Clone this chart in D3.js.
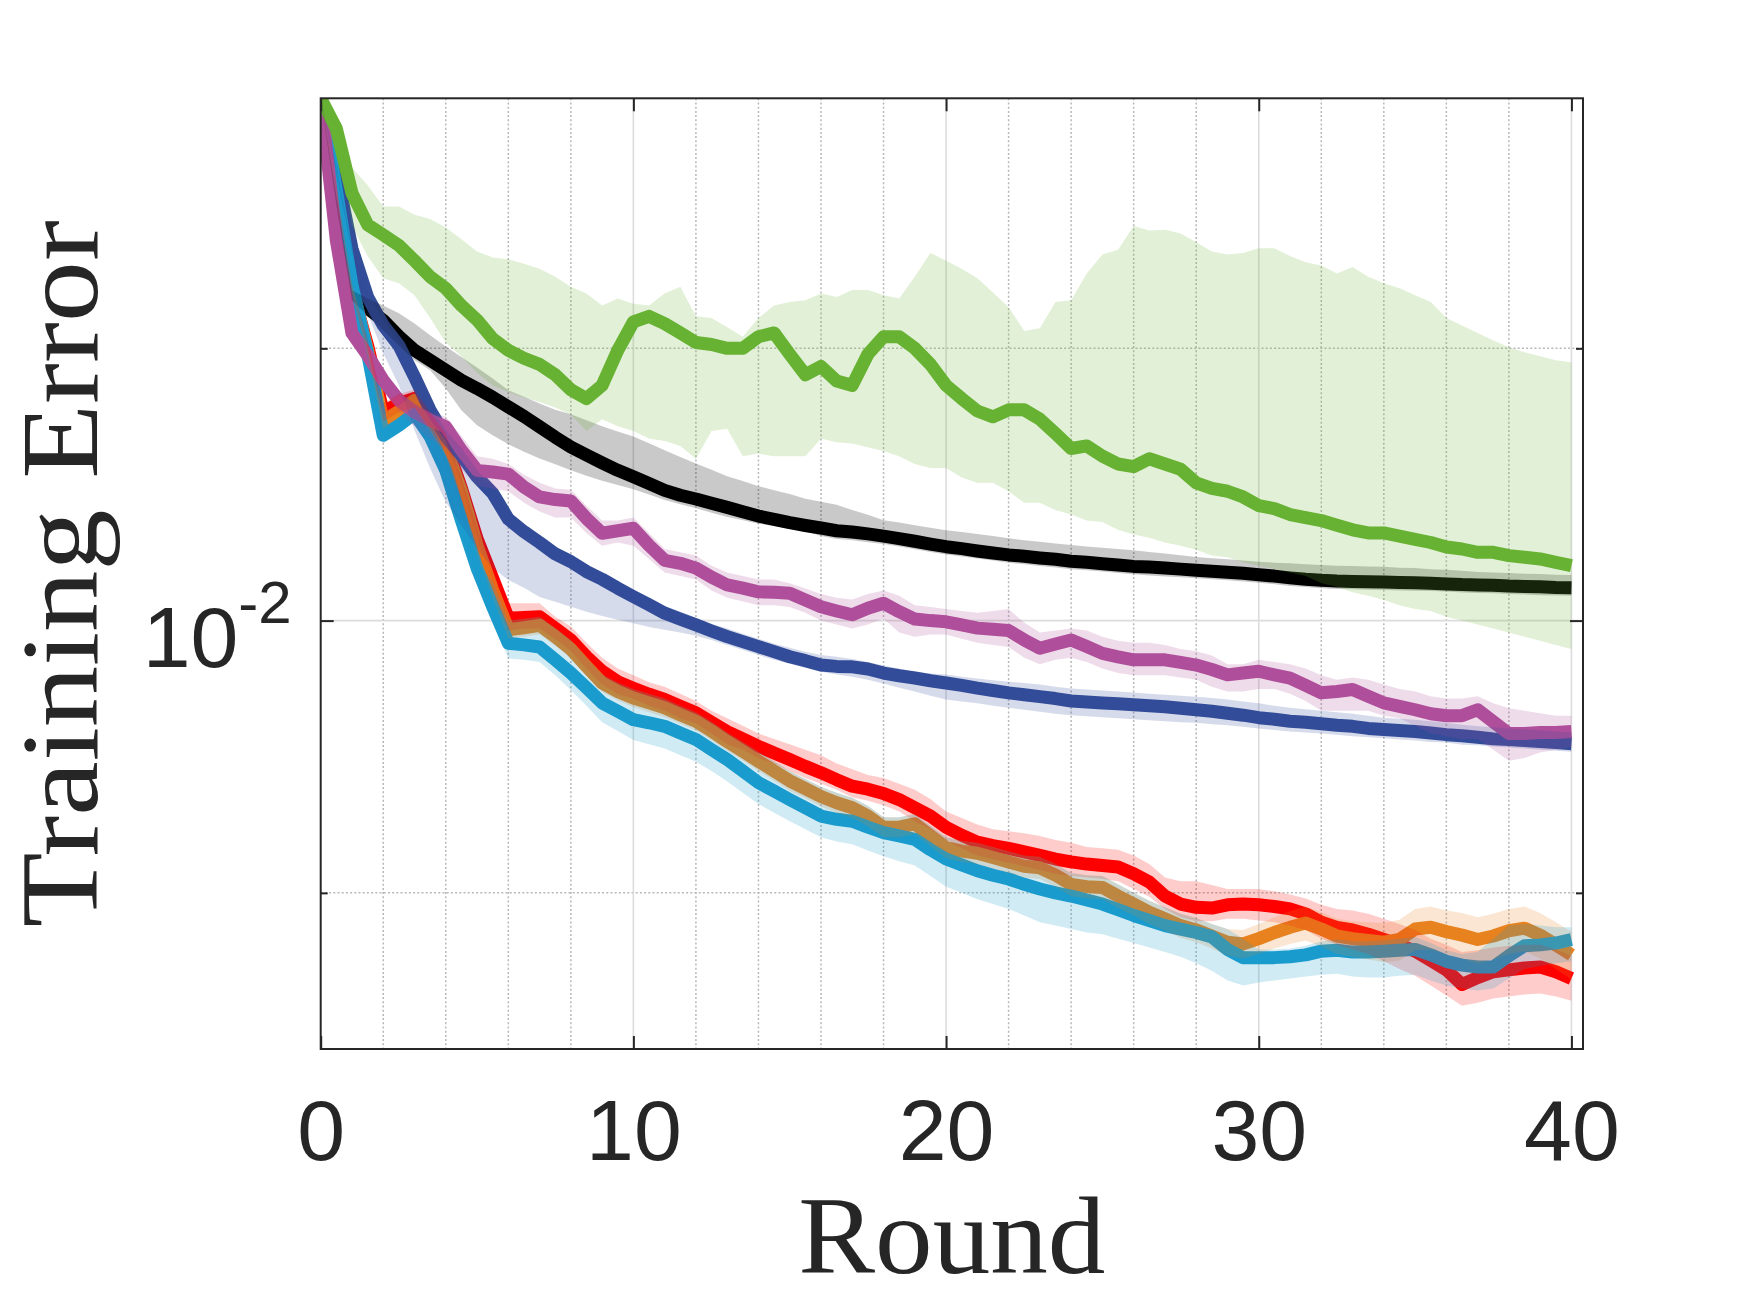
<html>
<head>
<script src="https://d3js.org/d3.v7.min.js"></script>
<style>
body { margin: 0; background: #fff; }
</style>
</head>
<body>
<script>
// rounds sampled every half round, values are in units of 1e-3
const rounds = d3.range(0, 40.5, 0.5);
const unit = 1e-3;

const greenMean = [37.8, 35.0, 29.7, 27.4, 26.7, 26.0, 25.0, 24.0, 23.3, 22.3,
  21.5, 20.5, 19.9, 19.5, 19.2, 18.7, 18.0, 17.6, 18.2, 19.9,
  21.4, 21.7, 21.3, 20.8, 20.3, 20.2, 20.0, 20.0, 20.6, 20.8,
  19.7, 18.7, 19.1, 18.4, 18.2, 19.7, 20.6, 20.6, 20.0, 19.2,
  18.2, 17.6, 17.05, 16.8, 17.1, 17.1, 16.7, 16.1, 15.5, 15.6,
  15.2, 14.9, 14.8, 15.1, 14.9, 14.7, 14.2, 14.0, 13.9, 13.7,
  13.4, 13.3, 13.1, 13.0, 12.9, 12.75, 12.6, 12.5, 12.5, 12.4,
  12.3, 12.2, 12.06, 12.0, 11.9, 11.9, 11.8, 11.75, 11.7, 11.6,
  11.5];
const greenHigh = [37.8, 35.1, 31.7, 30.3, 28.7, 28.7, 28.1, 27.8, 27.2, 26.4,
  25.6, 25.2, 25.1, 24.8, 24.5, 24.0, 23.4, 23.0, 22.3, 22.7,
  22.4, 22.3, 23.0, 23.4, 21.7, 21.6, 21.1, 20.6, 21.6, 22.3,
  22.5, 22.6, 23.0, 22.8, 23.2, 23.2, 22.9, 22.7, 24.0, 25.5,
  25.0, 24.5, 23.9, 23.05, 22.2, 20.9, 21.05, 22.5, 22.6, 24.2,
  25.4, 25.7, 27.3, 27.0, 27.05, 26.8, 26.2, 25.6, 25.4, 25.5,
  25.8, 25.8, 25.3, 24.9, 24.7, 24.2, 24.6, 24.0, 23.6, 23.3,
  22.9, 22.5, 21.6, 21.2, 20.8, 20.4, 20.05, 19.8, 19.6, 19.4,
  19.3];
const greenLow = [37.8, 35.0, 27.3, 25.3, 23.9, 23.6, 22.9, 21.6, 20.3, 19.6,
  18.8, 18.2, 17.9, 17.65, 17.45, 17.2, 16.9, 16.2, 16.7, 16.4,
  16.2, 15.9, 15.8, 15.6, 15.1, 16.2, 16.3, 15.2, 15.3, 15.2,
  15.2, 15.2, 15.9, 15.75, 15.7, 15.55, 15.4, 15.2, 14.9, 14.75,
  14.75, 14.4, 14.2, 14.2, 13.9, 13.5, 13.5, 13.25, 13.1, 12.9,
  12.85, 12.6, 12.45, 12.35, 12.2, 12.1, 11.98, 11.8, 11.75, 11.6,
  11.5, 11.4, 11.3, 11.2, 11.0, 10.9, 10.75, 10.65, 10.54, 10.4,
  10.3, 10.25, 10.1, 10.0, 9.9, 9.8, 9.7, 9.6, 9.5, 9.4,
  9.3];

const blackMean = [37.8, 29.2, 23.03, 22.15, 21.48, 20.62, 19.90, 19.40, 18.92, 18.44,
  18.06, 17.66, 17.23, 16.82, 16.38, 15.95, 15.56, 15.24, 14.94, 14.66,
  14.42, 14.18, 13.93, 13.76, 13.63, 13.48, 13.34, 13.19, 13.05, 12.94,
  12.83, 12.74, 12.66, 12.57, 12.53, 12.47, 12.40, 12.32, 12.24, 12.15,
  12.07, 12.01, 11.94, 11.88, 11.82, 11.78, 11.73, 11.69, 11.63, 11.60,
  11.56, 11.52, 11.48, 11.46, 11.43, 11.40, 11.37, 11.34, 11.31, 11.28,
  11.24, 11.20, 11.15, 11.11, 11.08, 11.06, 11.05, 11.04, 11.03, 11.02,
  11.01, 11.00, 10.98, 10.96, 10.95, 10.94, 10.92, 10.91, 10.90, 10.88,
  10.87];
const blackHigh = [37.8, 29.5, 23.19, 22.7, 22.3, 21.87, 21.3, 20.68, 20.1, 19.56,
  19.05, 18.52, 17.98, 17.68, 17.38, 17.11, 16.91, 16.65, 16.40, 16.18,
  15.98, 15.71, 15.43, 15.17, 14.92, 14.68, 14.44, 14.27, 14.08, 13.94,
  13.80, 13.64, 13.53, 13.43, 13.25, 13.09, 12.91, 12.84, 12.75, 12.67,
  12.59, 12.53, 12.47, 12.40, 12.33, 12.27, 12.22, 12.17, 12.12, 12.08,
  12.04, 12.0, 11.96, 11.91, 11.86, 11.81, 11.76, 11.72, 11.69, 11.65,
  11.62, 11.59, 11.57, 11.54, 11.52, 11.50, 11.49, 11.48, 11.47, 11.44,
  11.43, 11.40, 11.38, 11.35, 11.32, 11.30, 11.29, 11.27, 11.26, 11.24,
  11.23];
const blackLow = [37.8, 28.8, 22.6, 21.75, 20.94, 20.15, 19.40, 18.92, 18.06, 17.08,
  16.44, 16.03, 15.67, 15.37, 15.11, 14.89, 14.66, 14.46, 14.28, 14.12,
  13.97, 13.79, 13.59, 13.45, 13.31, 13.16, 13.02, 12.91, 12.80, 12.72,
  12.63, 12.55, 12.40, 12.31, 12.27, 12.21, 12.15, 12.08, 11.99, 11.91,
  11.83, 11.77, 11.71, 11.65, 11.59, 11.54, 11.49, 11.45, 11.40, 11.37,
  11.33, 11.29, 11.25, 11.22, 11.19, 11.17, 11.14, 11.11, 11.08, 11.05,
  11.01, 10.97, 10.92, 10.89, 10.86, 10.84, 10.83, 10.82, 10.81, 10.80,
  10.79, 10.78, 10.77, 10.74, 10.73, 10.72, 10.70, 10.69, 10.67, 10.66,
  10.65];

const purpleMean = [37.8, 26.33, 20.79, 19.65, 18.44, 17.52, 17.01, 16.65, 16.38, 15.43,
  14.66, 14.60, 14.52, 14.05, 13.70, 13.61, 13.56, 12.97, 12.49, 12.57,
  12.65, 12.11, 11.66, 11.57, 11.43, 11.17, 10.95, 10.86, 10.76, 10.75,
  10.72, 10.54, 10.36, 10.25, 10.15, 10.32, 10.45, 10.23, 10.04, 10.00,
  9.97, 9.89, 9.81, 9.78, 9.75, 9.52, 9.32, 9.42, 9.52, 9.36,
  9.20, 9.12, 9.05, 9.05, 9.05, 8.99, 8.93, 8.83, 8.71, 8.75,
  8.79, 8.71, 8.64, 8.48, 8.32, 8.35, 8.39, 8.25, 8.11, 8.04,
  7.97, 7.89, 7.85, 7.85, 7.97, 7.73, 7.50, 7.50, 7.52, 7.52,
  7.54];
const purpleHigh = [37.8, 26.8, 21.2, 20.0, 18.8, 17.9, 17.4, 17.0, 16.8, 16.0,
  15.2, 15.1, 14.9, 14.5, 14.2, 14.0, 13.95, 13.4, 12.9, 12.9,
  13.0, 12.5, 12.0, 11.9, 11.8, 11.5, 11.3, 11.2, 11.1, 11.1,
  11.0, 10.85, 10.7, 10.6, 10.55, 10.7, 10.8, 10.65, 10.4, 10.35,
  10.3, 10.25, 10.2, 10.25, 10.3, 9.95, 9.7, 9.75, 9.8, 9.75,
  9.6, 9.5, 9.45, 9.45, 9.4, 9.3, 9.25, 9.15, 8.95, 8.95,
  9.05, 9.0, 8.95, 8.85, 8.7, 8.6, 8.65, 8.6, 8.5, 8.4,
  8.35, 8.25, 8.2, 8.2, 8.25, 8.1, 8.0, 7.95, 7.9, 7.85,
  7.85];
const purpleLow = [37.8, 25.9, 20.4, 19.3, 18.1, 17.0, 16.4, 15.9, 15.5, 14.7,
  14.1, 14.0, 13.9, 13.5, 13.2, 13.0, 13.0, 12.5, 12.1, 12.2,
  12.1, 11.7, 11.3, 11.2, 11.1, 10.8, 10.6, 10.5, 10.4, 10.4,
  10.35, 10.2, 10.0, 9.9, 9.8, 9.9, 10.05, 9.7, 9.6, 9.65,
  9.65, 9.55, 9.45, 9.4, 9.35, 9.1, 8.95, 9.05, 9.1, 9.0,
  8.85, 8.75, 8.7, 8.7, 8.7, 8.65, 8.6, 8.45, 8.35, 8.35,
  8.4, 8.4, 8.3, 8.15, 7.95, 7.95, 7.95, 7.95, 7.85, 7.8,
  7.65, 7.5, 7.45, 7.4, 7.4, 7.2, 7.0, 7.05, 7.15, 7.2,
  7.25];

const blueMean = [37.8, 31.47, 25.78, 22.79, 21.21, 20.15, 18.60, 17.08, 15.98, 15.24,
  14.42, 13.83, 12.95, 12.54, 12.20, 11.85, 11.62, 11.33, 11.11, 10.86,
  10.63, 10.41, 10.19, 10.04, 9.89, 9.74, 9.60, 9.48, 9.36, 9.24,
  9.12, 9.03, 8.93, 8.90, 8.89, 8.84, 8.75, 8.69, 8.64, 8.58,
  8.53, 8.48, 8.42, 8.37, 8.32, 8.28, 8.24, 8.20, 8.15, 8.13,
  8.11, 8.09, 8.07, 8.05, 8.03, 8.00, 7.97, 7.94, 7.90, 7.86,
  7.81, 7.78, 7.74, 7.72, 7.69, 7.66, 7.64, 7.60, 7.58, 7.56,
  7.54, 7.51, 7.48, 7.46, 7.43, 7.40, 7.39, 7.37, 7.35, 7.33,
  7.31];
const blueHigh = [37.8, 31.87, 26.06, 23.07, 21.48, 20.42, 18.92, 17.38, 16.24, 15.51,
  14.66, 14.04, 13.18, 12.75, 12.40, 12.06, 11.81, 11.54, 11.31, 11.06,
  10.81, 10.59, 10.38, 10.23, 10.07, 9.92, 9.80, 9.67, 9.55, 9.43,
  9.33, 9.24, 9.16, 9.12, 9.07, 9.00, 8.92, 8.85, 8.78, 8.74,
  8.72, 8.67, 8.63, 8.59, 8.56, 8.53, 8.50, 8.45, 8.41, 8.39,
  8.37, 8.35, 8.33, 8.30, 8.28, 8.26, 8.24, 8.21, 8.18, 8.14,
  8.10, 8.05, 8.01, 7.98, 7.95, 7.92, 7.89, 7.85, 7.81, 7.79,
  7.77, 7.74, 7.71, 7.67, 7.64, 7.62, 7.60, 7.58, 7.56, 7.54,
  7.52];
const blueLow = [37.8, 31.08, 25.54, 21.87, 19.75, 18.21, 16.24, 14.74, 13.52, 12.75,
  12.02, 11.43, 11.09, 10.87, 10.62, 10.49, 10.36, 10.23, 10.12, 10.02,
  9.93, 9.84, 9.77, 9.70, 9.62, 9.52, 9.40, 9.28, 9.16, 9.05,
  8.96, 8.87, 8.78, 8.72, 8.67, 8.60, 8.52, 8.43, 8.35, 8.26,
  8.18, 8.14, 8.10, 8.05, 8.01, 7.97, 7.93, 7.89, 7.86, 7.84,
  7.82, 7.80, 7.78, 7.76, 7.74, 7.72, 7.71, 7.68, 7.66, 7.63,
  7.60, 7.57, 7.54, 7.52, 7.50, 7.48, 7.45, 7.43, 7.41, 7.39,
  7.37, 7.34, 7.33, 7.29, 7.28, 7.26, 7.24, 7.22, 7.20, 7.18,
  7.16];

const redMean = [37.8, 29.9, 23.19, 20.15, 17.0, 17.38, 17.61, 16.65, 15.70, 14.01,
  12.32, 11.14, 10.06, 10.08, 10.10, 9.81, 9.52, 9.12, 8.79, 8.56,
  8.42, 8.29, 8.18, 8.04, 7.91, 7.72, 7.54, 7.40, 7.26, 7.14,
  7.02, 6.90, 6.79, 6.67, 6.56, 6.51, 6.44, 6.34, 6.21, 6.08,
  5.91, 5.79, 5.69, 5.64, 5.60, 5.55, 5.50, 5.45, 5.41, 5.38,
  5.36, 5.34, 5.25, 5.14, 4.96, 4.86, 4.82, 4.81, 4.85, 4.86,
  4.85, 4.83, 4.80, 4.74, 4.64, 4.58, 4.55, 4.50, 4.44, 4.38,
  4.31, 4.21, 4.11, 3.96, 4.03, 4.09, 4.11, 4.13, 4.14, 4.09,
  4.02];
const redHigh = [37.8, 30.2, 23.5, 20.5, 17.4, 17.8, 18.0, 17.0, 16.1, 14.4,
  12.7, 11.5, 10.45, 10.45, 10.45, 10.1, 9.85, 9.45, 9.1, 8.85,
  8.7, 8.55, 8.45, 8.3, 8.15, 7.95, 7.8, 7.65, 7.5, 7.4,
  7.3, 7.2, 7.1, 6.95, 6.85, 6.75, 6.7, 6.6, 6.5, 6.35,
  6.15, 6.05, 5.95, 5.88, 5.85, 5.82, 5.78, 5.72, 5.68, 5.62,
  5.6, 5.58, 5.5, 5.38, 5.2, 5.15, 5.15, 5.1, 5.05, 5.05,
  5.05, 5.02, 4.98, 4.93, 4.85, 4.8, 4.78, 4.74, 4.68, 4.62,
  4.55, 4.45, 4.38, 4.3, 4.32, 4.35, 4.37, 4.38, 4.38, 4.33,
  4.26];
const redLow = [37.8, 29.6, 22.9, 19.8, 16.6, 17.0, 17.2, 16.3, 15.3, 13.6,
  12.0, 10.8, 9.75, 9.8, 9.8, 9.55, 9.25, 8.85, 8.5, 8.3,
  8.2, 8.05, 7.95, 7.8, 7.7, 7.5, 7.3, 7.2, 7.05, 6.95,
  6.82, 6.7, 6.6, 6.5, 6.38, 6.32, 6.25, 6.15, 6.0, 5.88,
  5.72, 5.6, 5.5, 5.45, 5.4, 5.35, 5.3, 5.25, 5.22, 5.2,
  5.18, 5.15, 5.05, 4.95, 4.8, 4.7, 4.65, 4.65, 4.68, 4.68,
  4.66, 4.64, 4.6, 4.55, 4.45, 4.38, 4.33, 4.28, 4.2, 4.12,
  4.05, 3.95, 3.85, 3.75, 3.78, 3.82, 3.84, 3.86, 3.87, 3.84,
  3.8];

const orangeMean = [37.8, 29.9, 23.37, 19.90, 16.61, 17.04, 17.52, 16.44, 15.51, 13.90,
  12.11, 10.81, 9.77, 9.82, 9.88, 9.60, 9.30, 8.90, 8.53, 8.35,
  8.21, 8.11, 8.01, 7.87, 7.74, 7.55, 7.35, 7.17, 6.99, 6.82,
  6.65, 6.52, 6.39, 6.29, 6.21, 6.08, 5.91, 5.91, 5.96, 5.78,
  5.61, 5.56, 5.53, 5.47, 5.41, 5.35, 5.33, 5.23, 5.11, 5.08,
  5.07, 4.96, 4.86, 4.76, 4.68, 4.60, 4.55, 4.48, 4.41, 4.39,
  4.45, 4.52, 4.58, 4.63, 4.56, 4.48, 4.45, 4.43, 4.41, 4.44,
  4.56, 4.58, 4.53, 4.49, 4.44, 4.48, 4.54, 4.57, 4.49, 4.38,
  4.27];
const orangeHigh = [37.8, 30.1, 23.6, 20.2, 16.9, 17.3, 17.8, 16.7, 15.8, 14.2,
  12.35, 11.05, 10.0, 10.05, 10.1, 9.82, 9.52, 9.1, 8.72, 8.54,
  8.4, 8.3, 8.2, 8.05, 7.92, 7.73, 7.52, 7.34, 7.16, 6.99,
  6.82, 6.68, 6.55, 6.45, 6.37, 6.24, 6.06, 6.06, 6.11, 5.93,
  5.76, 5.71, 5.68, 5.62, 5.56, 5.5, 5.48, 5.38, 5.26, 5.23,
  5.22, 5.11, 5.0, 4.9, 4.82, 4.74, 4.69, 4.62, 4.56, 4.55,
  4.62, 4.7, 4.77, 4.83, 4.76, 4.68, 4.65, 4.64, 4.63, 4.67,
  4.8, 4.83, 4.78, 4.75, 4.7, 4.74, 4.8, 4.83, 4.75, 4.64,
  4.53];
const orangeLow = [37.8, 29.7, 23.1, 19.6, 16.3, 16.8, 17.2, 16.2, 15.2, 13.6,
  11.85, 10.6, 9.55, 9.6, 9.65, 9.38, 9.08, 8.7, 8.34, 8.16,
  8.02, 7.92, 7.82, 7.69, 7.56, 7.37, 7.18, 7.0, 6.82, 6.65,
  6.48, 6.36, 6.23, 6.13, 6.05, 5.92, 5.76, 5.76, 5.81, 5.63,
  5.46, 5.41, 5.38, 5.32, 5.26, 5.2, 5.18, 5.08, 4.96, 4.93,
  4.92, 4.81, 4.72, 4.62, 4.54, 4.46, 4.41, 4.34, 4.26, 4.23,
  4.28, 4.34, 4.39, 4.43, 4.36, 4.28, 4.25, 4.22, 4.19, 4.21,
  4.32, 4.33, 4.28, 4.23, 4.18, 4.22, 4.28, 4.31, 4.23, 4.12,
  4.01];

const cyanMean = [37.8, 29.9, 23.5, 19.74, 16.03, 16.44, 16.94, 15.98, 14.66, 12.91,
  11.43, 10.36, 9.44, 9.40, 9.35, 9.05, 8.75, 8.43, 8.11, 7.94,
  7.77, 7.71, 7.64, 7.51, 7.39, 7.20, 7.02, 6.82, 6.62, 6.48,
  6.34, 6.21, 6.08, 6.03, 6.00, 5.91, 5.83, 5.78, 5.73, 5.58,
  5.45, 5.37, 5.29, 5.23, 5.18, 5.11, 5.05, 5.00, 4.96, 4.91,
  4.86, 4.79, 4.72, 4.66, 4.60, 4.56, 4.52, 4.47, 4.33, 4.24,
  4.24, 4.24, 4.25, 4.27, 4.31, 4.32, 4.30, 4.30, 4.31, 4.32,
  4.33, 4.27, 4.20, 4.16, 4.14, 4.14, 4.26, 4.37, 4.38, 4.40,
  4.44];
const cyanHigh = [37.8, 30.2, 23.8, 20.0, 16.3, 16.7, 17.2, 16.2, 14.9, 13.15,
  11.6, 11.05, 10.0, 10.05, 10.1, 9.82, 9.52, 9.1, 8.72, 8.54,
  8.4, 8.3, 8.2, 8.05, 7.92, 7.73, 7.52, 7.34, 7.16, 6.99,
  6.82, 6.68, 6.55, 6.45, 6.37, 6.24, 6.06, 6.06, 6.11, 5.93,
  5.76, 5.71, 5.68, 5.62, 5.56, 5.5, 5.48, 5.38, 5.26, 5.23,
  5.22, 5.11, 5.0, 4.9, 4.82, 4.74, 4.69, 4.62, 4.56, 4.45,
  4.33, 4.33, 4.34, 4.37, 4.42, 4.44, 4.42, 4.42, 4.43, 4.45,
  4.47, 4.4, 4.32, 4.28, 4.3, 4.45, 4.6, 4.62, 4.6, 4.58,
  4.58];
const cyanLow = [37.8, 29.6, 23.2, 19.4, 15.7, 16.1, 16.6, 15.6, 14.3, 12.6,
  11.15, 10.05, 9.08, 9.05, 9.0, 8.7, 8.38, 8.05, 7.72, 7.55,
  7.38, 7.3, 7.22, 7.1, 6.98, 6.82, 6.64, 6.45, 6.27, 6.13,
  6.0, 5.88, 5.76, 5.7, 5.66, 5.57, 5.49, 5.42, 5.36, 5.22,
  5.08, 5.0, 4.92, 4.86, 4.8, 4.72, 4.64, 4.6, 4.56, 4.52,
  4.5, 4.45, 4.4, 4.35, 4.3, 4.25, 4.18, 4.1, 4.0, 3.95,
  3.98, 4.0, 4.02, 4.04, 4.06, 4.07, 4.04, 4.03, 4.03, 4.05,
  4.06, 4.0, 3.95, 3.92, 3.9, 3.92, 4.02, 4.12, 4.15, 4.18,
  4.2];

const xTicks = [0, 10, 20, 30, 40];
const yMajor = [0.01];
const yMinor = [0.005, 0.02];

// draw order of the lines; bands are laid over them afterwards
const series = [
  {key: "black",  color: "#000000", mean: blackMean,  low: blackLow,  high: blackHigh,  alpha: 0.21},
  {key: "red",    color: "#ff0000", mean: redMean,    low: redLow,    high: redHigh,    alpha: 0.2},
  {key: "orange", color: "#e8821e", mean: orangeMean, low: orangeLow, high: orangeHigh, alpha: 0.2},
  {key: "blue",   color: "#334d99", mean: blueMean,   low: blueLow,   high: blueHigh,   alpha: 0.2},
  {key: "cyan",   color: "#1b9bce", mean: cyanMean,   low: cyanLow,   high: cyanHigh,   alpha: 0.2},
  {key: "purple", color: "#b04e9a", mean: purpleMean, low: purpleLow, high: purpleHigh, alpha: 0.2},
  {key: "green",  color: "#67b233", mean: greenMean,  low: greenLow,  high: greenHigh,  alpha: 0.2}
];
const bandOrder = ["black", "green", "purple", "blue", "red", "orange", "cyan"];

function draw() {
  const width = 1750, height = 1313;
  const pL = 320.7, pR = 1583, pT = 98.3, pB = 1049;
  const axisColor = "#262626";

  const svg = d3.select("body").append("svg")
    .attr("width", width).attr("height", height)
    .attr("viewBox", [0, 0, width, height]);

  const x = d3.scaleLinear().domain([0, 40.37]).range([pL, pR]);
  const y = d3.scaleLog().domain([0.00336, 0.0378]).range([pB, pT]);

  svg.append("clipPath").attr("id", "plot")
    .append("rect").attr("x", pL).attr("y", pT)
    .attr("width", pR - pL).attr("height", pB - pT);

  // grid
  let grid = svg.append("g");
  grid.selectAll(".xminor").data(d3.range(2, 40, 2).filter(v => v % 10 != 0)).enter()
    .append("line")
    .attr("x1", d => x(d)).attr("x2", d => x(d))
    .attr("y1", pT).attr("y2", pB)
    .attr("stroke", "#b8b8b8").attr("stroke-width", 1.5)
    .attr("stroke-dasharray", "2,2.2");
  grid.selectAll(".yminor").data(yMinor).enter()
    .append("line")
    .attr("x1", pL).attr("x2", pR)
    .attr("y1", d => y(d)).attr("y2", d => y(d))
    .attr("stroke", "#b8b8b8").attr("stroke-width", 1.5)
    .attr("stroke-dasharray", "2,2.2");
  grid.selectAll(".xmajor").data(xTicks.slice(1)).enter()
    .append("line")
    .attr("x1", d => x(d)).attr("x2", d => x(d))
    .attr("y1", pT).attr("y2", pB)
    .attr("stroke", "#dcdcdc").attr("stroke-width", 1.6);
  grid.selectAll(".ymajor").data(yMajor).enter()
    .append("line")
    .attr("x1", pL).attr("x2", pR)
    .attr("y1", d => y(d)).attr("y2", d => y(d))
    .attr("stroke", "#dcdcdc").attr("stroke-width", 1.6);

  // data
  let plot = svg.append("g").attr("clip-path", "url(#plot)");

  let line = d3.line()
    .x((d, i) => x(rounds[i]))
    .y(d => y(d * unit));
  let area = d3.area()
    .x((d, i) => x(rounds[i]))
    .y0(d => y(d[0] * unit))
    .y1(d => y(d[1] * unit));

  plot.selectAll("path.mean")
    .data(series)
    .enter()
    .append("path")
    .attr("class", "mean")
    .attr("d", s => line(s.mean))
    .attr("fill", "none")
    .attr("stroke", s => s.color)
    .attr("stroke-width", 13)
    .attr("stroke-linejoin", "round");

  plot.selectAll("path.band")
    .data(bandOrder.map(k => series.find(s => s.key == k)))
    .enter()
    .append("path")
    .attr("class", "band")
    .attr("d", s => area(s.low.map((v, i) => [v, s.high[i]])))
    .attr("fill", s => s.color)
    .attr("fill-opacity", s => s.alpha)
    .attr("stroke", "none");

  // axes
  function styleAxis(g) {
    g.select(".domain").remove();
    g.selectAll(".tick line").attr("stroke", axisColor).attr("stroke-width", 2);
    g.selectAll(".tick text")
      .attr("fill", axisColor)
      .attr("font-family", "Liberation Sans, Arial, sans-serif")
      .attr("font-size", "86px");
  }

  svg.append("g").attr("transform", `translate(0,${pB})`)
    .call(d3.axisBottom(x).tickValues(xTicks).tickSizeInner(-13).tickSizeOuter(0).tickFormat(d3.format("d")))
    .call(styleAxis)
    .call(g => g.selectAll(".tick text").attr("y", 111).attr("dy", 0));
  svg.append("g").attr("transform", `translate(0,${pT})`)
    .call(d3.axisTop(x).tickValues(xTicks).tickSizeInner(-13).tickSizeOuter(0).tickFormat(""))
    .call(styleAxis);

  svg.append("g").attr("transform", `translate(${pL},0)`)
    .call(d3.axisLeft(y).tickValues(yMajor).tickSizeInner(-13).tickSizeOuter(0).tickFormat(""))
    .call(styleAxis);
  svg.append("g").attr("transform", `translate(${pL},0)`)
    .call(d3.axisLeft(y).tickValues(yMinor).tickSizeInner(-7).tickSizeOuter(0).tickFormat(""))
    .call(styleAxis);
  svg.append("g").attr("transform", `translate(${pR},0)`)
    .call(d3.axisRight(y).tickValues(yMajor).tickSizeInner(-13).tickSizeOuter(0).tickFormat(""))
    .call(styleAxis);
  svg.append("g").attr("transform", `translate(${pR},0)`)
    .call(d3.axisRight(y).tickValues(yMinor).tickSizeInner(-7).tickSizeOuter(0).tickFormat(""))
    .call(styleAxis);

  // y tick label 10^-2
  let ylab = svg.append("text")
    .attr("x", pL - 29)
    .attr("y", y(0.01) + 46)
    .attr("text-anchor", "end")
    .attr("fill", axisColor)
    .attr("font-family", "Liberation Sans, Arial, sans-serif")
    .attr("font-size", "86px");
  ylab.append("tspan").text("10");
  ylab.append("tspan").attr("dy", -44).attr("font-size", "60px").text("-2");

  // box
  svg.append("rect")
    .attr("x", pL).attr("y", pT)
    .attr("width", pR - pL).attr("height", pB - pT)
    .attr("fill", "none")
    .attr("stroke", axisColor)
    .attr("stroke-width", 2);

  // axis titles
  svg.append("text")
    .attr("x", (pL + pR) / 2)
    .attr("y", 1273)
    .attr("text-anchor", "middle")
    .attr("fill", axisColor)
    .attr("font-family", "Liberation Serif, Times New Roman, serif")
    .attr("font-size", "110px")
    .attr("textLength", 307)
    .attr("lengthAdjust", "spacingAndGlyphs")
    .text("Round");

  svg.append("text")
    .attr("transform", `translate(97,${(pT + pB) / 2}) rotate(-90)`)
    .attr("text-anchor", "middle")
    .attr("fill", axisColor)
    .attr("font-family", "Liberation Serif, Times New Roman, serif")
    .attr("font-size", "110px")
    .attr("textLength", 707)
    .attr("lengthAdjust", "spacingAndGlyphs")
    .text("Training Error");
}

draw();
</script>
</body>
</html>
